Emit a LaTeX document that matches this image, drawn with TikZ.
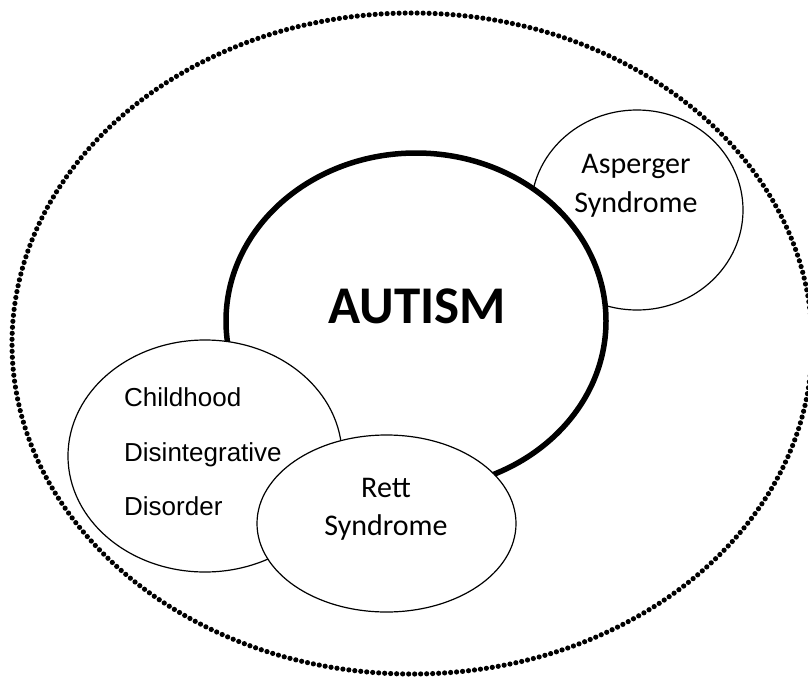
\documentclass[tikz,border=0pt]{standalone}
\usepackage{fontspec}
\setmainfont{Carlito}
\newfontfamily\arialfont{Liberation Sans}
\usetikzlibrary{shapes.geometric}
\tikzset{
  bubble/.style={ellipse, draw=black, fill=white, line width=1.2pt, inner sep=0pt},
  mainbubble/.style={ellipse, draw=black, fill=white, line width=5.5pt, inner sep=0pt},
  outerbubble/.style={ellipse, draw=black, line width=5.2pt, dash pattern=on 0pt off 6pt, line cap=round, inner sep=0pt},
  lbl/.style={inner sep=0pt, font=\fontsize{30}{34}\selectfont},
  lblarial/.style={inner sep=0pt, anchor=base west, font=\arialfont\fontsize{26}{30}\selectfont},
}
\begin{document}
\begin{tikzpicture}[x=1pt,y=-1pt]
\useasboundingbox (0,0) rectangle (808,677);
\node[outerbubble, minimum width=800pt, minimum height=661pt] (outer) at (412,343.5) {};
\node[bubble, minimum width=212pt, minimum height=200pt] (asp) at (637,210) {};
\node[mainbubble, minimum width=380pt, minimum height=336pt] (aut) at (416,321) {};
\node[bubble, minimum width=274pt, minimum height=232pt] (cdd) at (205,456) {};
\node[bubble, minimum width=259pt, minimum height=177pt] (rett) at (386.5,523.5) {};
\node[inner sep=0pt, anchor=base, font=\bfseries\fontsize{53}{60}\selectfont] (autt) at (417,323) {AUTISM};
\node[lbl, anchor=base] (asp1) at (636,173) {Asperger};
\node[lbl, anchor=base] (asp2) at (636,212) {Syndrome};
\node[lbl, anchor=base] (rett1) at (386,497) {Rett};
\node[lbl, anchor=base] (rett2) at (386,535) {Syndrome};
\node[lblarial] (cdd1) at (124,406) {Childhood};
\node[lblarial] (cdd2) at (124,461) {Disintegrative};
\node[lblarial] (cdd3) at (124,515) {Disorder};
\end{tikzpicture}
\end{document}
